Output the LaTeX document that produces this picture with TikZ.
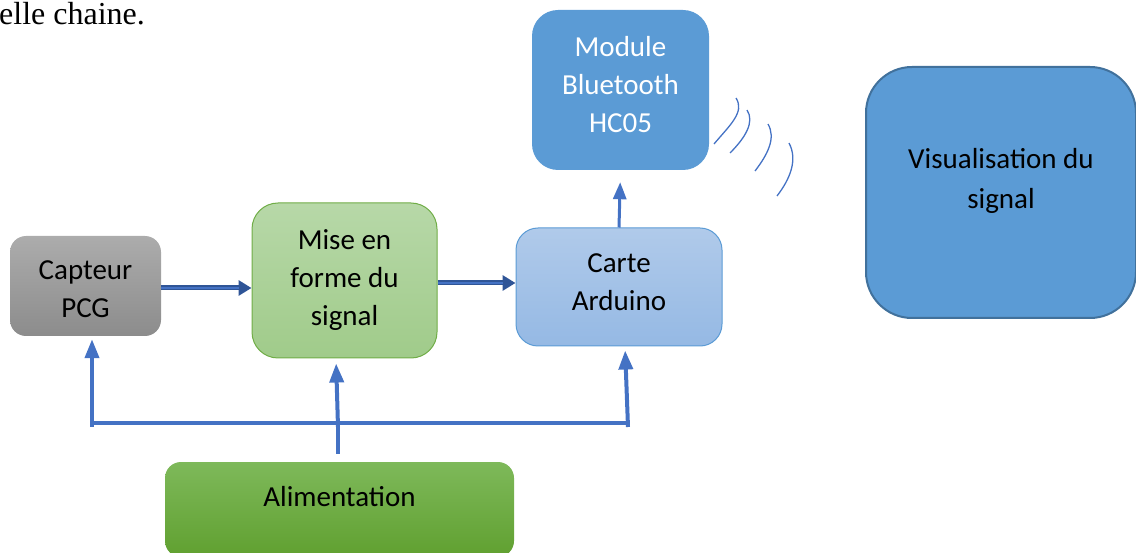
\documentclass[tikz,border=0pt]{standalone}
\usepackage{fontspec}
\setmainfont{Carlito}
\newfontfamily\timesfont{Liberation Serif}
\usetikzlibrary{arrows.meta,positioning}

\definecolor{busblue}{HTML}{4472C4}
\definecolor{darkblue}{HTML}{2F5597}
\definecolor{midblue}{HTML}{5B9BD5}
\definecolor{edgeblue}{HTML}{41719C}
\definecolor{edgegreen}{HTML}{70AD47}

\tikzset{
  block/.style={rounded corners=#1, inner sep=0pt},
  blocktext/.style={align=center, inner sep=0pt,
    font=\fontsize{29}{38}\selectfont},
  uparrow/.style={busblue, line width=4pt,
    -{Triangle[length=19pt,width=14pt]}},
  linkarrow/.style={darkblue, line width=5pt,
    -{Triangle[length=13pt,width=15pt]}},
  linkinner/.style={busblue, line width=2.2pt},
  wave/.style={busblue, line width=1.3pt}
}

\begin{document}
\begin{tikzpicture}[x=1pt,y=-1pt]
\useasboundingbox (0,0) rectangle (1136,553);

% text from the page above
\node[anchor=base west, inner sep=0pt, font=\timesfont\fontsize{32}{36}\selectfont]
  (caption) at (-1,25) {elle chaine.};

% blocks
\node[block=16pt, minimum width=151pt, minimum height=100pt,
  top color={rgb,255:red,172;green,172;blue,172}, bottom color={rgb,255:red,140;green,140;blue,140}]
  (capteur) at (85.5,286) {};
\node[block=26pt, minimum width=185pt, minimum height=155pt, draw=edgegreen, line width=1pt,
  top color={rgb,255:red,183;green,216;blue,168}, bottom color={rgb,255:red,160;green,203;blue,138}]
  (mise) at (344.5,280.5) {};
\node[block=22pt, minimum width=206pt, minimum height=118pt, draw=midblue, line width=1pt,
  top color={rgb,255:red,176;green,202;blue,234}, bottom color={rgb,255:red,149;green,185;blue,228}]
  (arduino) at (619,287) {};
\node[block=26pt, minimum width=177pt, minimum height=160pt, fill=midblue]
  (bluetooth) at (620.5,90) {};
\node[block=46pt, minimum width=270pt, minimum height=251pt, fill=midblue, draw=edgeblue,
  line width=2pt] (visu) at (1001,192.5) {};
\node[block=16pt, minimum width=349pt, minimum height=95pt,
  top color={rgb,255:red,126;green,185;blue,90}, bottom color={rgb,255:red,96;green,160;blue,48}]
  (alim) at (339.5,509.5) {};

% block texts
\node[blocktext] (capteur-txt) at ([yshift=-3pt]capteur.center) {Capteur\\PCG};
\node[blocktext] (mise-txt) at (mise.center) {Mise en\\forme du\\signal};
\node[blocktext] (arduino-txt) at ([yshift=5pt]arduino.center) {Carte\\Arduino};
\node[blocktext, text=white] (bluetooth-txt) at ([yshift=5pt]bluetooth.center) {Module\\Bluetooth\\HC05};
\node[blocktext, font=\fontsize{29}{40}\selectfont] (visu-txt) at ([yshift=12pt]visu.center) {Visualisation du\\signal};
\node[blocktext] (alim-txt) at ([yshift=12.5pt]alim.center) {Alimentation};

% signal chain
\draw[linkarrow] ([yshift=-2pt]capteur.east) -- ([yshift=-2pt]mise.west |- capteur.east);
\draw[linkinner] ([yshift=-2pt]capteur.east) -- ([xshift=-13pt,yshift=-2pt]mise.west |- capteur.east);
\draw[linkarrow] ([yshift=-2.5pt]mise.east) -- ([yshift=-2.5pt]arduino.west |- mise.east);
\draw[linkinner] ([yshift=-2.5pt]mise.east) -- ([xshift=-13pt,yshift=-2.5pt]arduino.west |- mise.east);
\draw[uparrow, line width=3pt, -{Triangle[length=17pt,width=13pt]}, shorten >=12pt]
  (arduino.north) -- (bluetooth.south);

% power supply
\coordinate (busL) at (90,423);
\coordinate (busR) at (630,423);
\coordinate (busM) at (338,423);
\draw[busblue, line width=4pt] (busL) -- (busR);
\draw[busblue, line width=4pt] (alim.north -| busM) ++(0,-8) -- (busM);
\draw[uparrow, shorten >=3pt] ([xshift=2pt,yshift=-4pt]busL) -- ([xshift=2pt]capteur.south -| busL);
\draw[uparrow, shorten >=5pt] ([yshift=-4pt]busM) -- ([xshift=-2pt]mise.south -| busM);
\draw[uparrow, shorten >=4pt] ([xshift=-2pt,yshift=-4pt]busR) -- ([xshift=-5pt]arduino.south -| busR);

% radio waves
\draw[wave] (714,144) .. controls (730,125) and (745,112) .. (736,98);
\draw[wave] (730,153) .. controls (745,138) and (755,122) .. (747,110);
\draw[wave] (755,171) .. controls (768,154) and (776,138) .. (768,124);
\draw[wave] (777,196) .. controls (790,179) and (798,160) .. (789,143);
\end{tikzpicture}
\end{document}
